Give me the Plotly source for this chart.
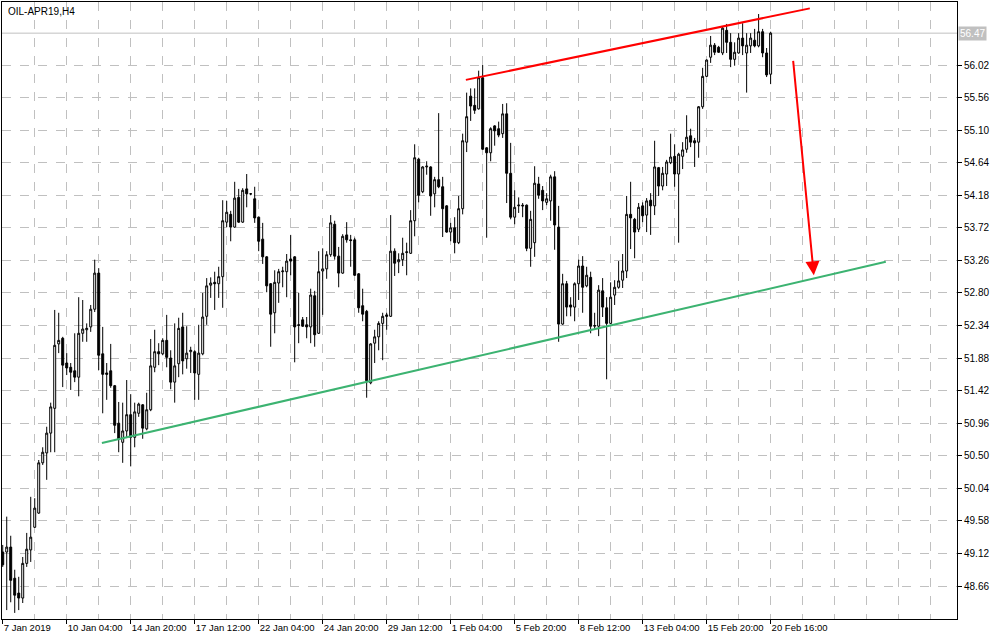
import plotly.graph_objects as go

# H4 candles of OIL-APR19 (bar index 0 = 7 Jan 2019 00:00)
opens = [
    49.14, 49.14, 49.21, 48.77, 48.56, 48.49, 48.98, 49.17, 49.49, 49.69,
    50.40, 50.54, 50.82, 51.17, 52.08, 52.16, 51.81, 51.75, 51.70, 51.61,
    52.23, 52.28, 52.32, 52.57, 53.08, 51.94, 51.67, 51.70, 51.49, 50.96,
    50.69, 50.85, 51.08, 50.76, 51.10, 51.22, 50.88, 51.15, 51.75, 51.97,
    51.94, 52.13, 51.88, 51.54, 51.80, 52.32, 51.87, 51.97, 51.97, 51.65,
    51.94, 52.47, 52.91, 52.95, 52.93, 53.03, 53.80, 53.91, 53.73, 54.15,
    53.80, 54.27, 54.20, 54.13, 53.87, 53.56, 53.31, 52.93, 52.52, 52.94,
    53.10, 53.10, 53.28, 53.31, 52.34, 52.42, 52.35, 52.32, 52.76, 52.23,
    53.11, 53.14, 53.34, 53.77, 53.32, 53.08, 53.62, 53.55, 53.55, 53.07,
    52.62, 52.54, 51.53, 52.09, 52.18, 52.37, 52.49, 52.47, 53.39, 53.24,
    53.27, 53.37, 53.36, 53.82, 54.69, 54.23, 54.58, 54.58, 54.20, 54.40,
    54.30, 54.03, 53.66, 53.72, 53.51, 53.99, 54.93, 55.58, 55.45, 55.40,
    55.84, 54.85, 54.78, 55.16, 55.12, 55.05, 55.33, 54.49, 53.87, 54.03,
    54.04, 54.04, 53.43, 53.51, 54.34, 54.25, 54.08, 54.10, 54.44, 53.73,
    52.36, 52.93, 52.63, 52.60, 52.93, 53.18, 52.90, 53.02, 52.33, 52.33,
    52.83, 52.59, 52.37, 52.77, 52.88, 52.98, 53.11, 53.91, 53.84, 53.70,
    54.03, 53.90, 54.11, 54.03, 54.57, 54.31, 54.48, 54.64, 54.73, 54.48,
    54.73, 54.83, 55.02, 54.95, 54.93, 55.43, 55.86, 56.13, 56.30, 56.27,
    56.19, 56.51, 56.34, 56.10, 56.19, 56.40, 56.19, 56.29, 56.37, 56.29,
    56.49, 56.19, 55.89,
]
highs = [
    49.24, 49.64, 49.37, 48.89, 48.79, 49.07, 49.41, 49.92, 49.90, 50.44,
    50.62, 50.91, 51.25, 52.56, 52.52, 52.18, 51.95, 51.81, 52.23, 52.74,
    52.70, 52.37, 52.63, 53.27, 53.15, 52.32, 51.81, 52.08, 51.50, 51.26,
    51.25, 51.57, 51.37, 51.25, 51.25, 51.23, 51.39, 52.15, 52.28, 52.09,
    52.16, 52.49, 51.99, 52.37, 52.45, 52.52, 52.33, 52.04, 51.99, 52.35,
    52.80, 53.01, 53.02, 53.10, 53.17, 54.11, 54.10, 53.96, 54.37, 54.27,
    54.28, 54.48, 54.21, 54.30, 53.88, 53.79, 53.32, 52.94, 53.12, 53.14,
    53.17, 53.35, 53.62, 53.32, 52.80, 52.46, 52.46, 52.86, 52.83, 53.39,
    53.43, 53.39, 53.90, 53.82, 53.45, 53.63, 53.80, 53.62, 53.58, 53.08,
    52.86, 52.56, 52.09, 52.28, 52.40, 52.52, 52.52, 53.90, 53.43, 53.36,
    53.58, 53.51, 53.97, 54.90, 54.71, 54.59, 54.66, 54.59, 54.44, 55.34,
    54.44, 54.04, 53.79, 53.87, 54.17, 55.05, 55.63, 55.69, 55.69, 55.94,
    56.02, 54.86, 55.14, 55.17, 55.22, 55.47, 55.48, 54.92, 54.25, 54.15,
    54.07, 54.05, 53.96, 54.59, 54.44, 54.31, 54.21, 54.47, 54.52, 54.03,
    53.07, 52.97, 52.74, 52.95, 53.27, 53.32, 53.17, 53.10, 52.52, 52.91,
    53.01, 52.74, 52.95, 52.98, 53.25, 53.35, 54.17, 54.37, 53.86, 54.07,
    54.08, 54.14, 54.21, 54.95, 54.58, 54.58, 54.68, 55.05, 54.90, 54.78,
    54.93, 55.31, 55.12, 54.99, 55.44, 55.98, 56.10, 56.43, 56.33, 56.29,
    56.56, 56.60, 56.47, 56.34, 56.47, 56.61, 56.47, 56.47, 56.53, 56.74,
    56.53, 56.26, 56.49,
]
lows = [
    48.93, 48.32, 48.43, 48.28, 48.32, 48.42, 48.93, 49.00, 49.48, 49.68,
    50.37, 50.16, 50.55, 50.55, 51.95, 51.47, 51.64, 51.43, 51.54, 51.34,
    52.11, 52.11, 52.25, 52.53, 51.71, 51.10, 51.29, 51.46, 50.82, 50.55,
    50.40, 50.75, 50.35, 50.62, 51.05, 50.74, 50.86, 51.13, 51.68, 51.78,
    51.92, 51.75, 51.44, 51.25, 51.61, 51.65, 51.73, 51.67, 51.29, 51.29,
    51.92, 52.35, 52.73, 52.56, 52.73, 52.59, 53.73, 53.53, 53.72, 53.79,
    53.79, 54.01, 54.18, 53.79, 53.39, 53.21, 52.81, 52.04, 52.23, 52.66,
    52.88, 52.74, 53.05, 51.82, 52.09, 52.32, 52.16, 52.09, 52.04, 52.22,
    52.49, 53.00, 53.31, 53.27, 52.88, 53.07, 53.51, 53.17, 53.04, 52.52,
    52.40, 51.32, 51.51, 51.81, 51.99, 51.85, 52.28, 52.46, 53.04, 53.08,
    53.18, 53.05, 53.35, 53.60, 54.08, 54.21, 54.47, 53.89, 54.01, 54.28,
    53.59, 53.65, 53.53, 53.36, 53.49, 53.91, 54.79, 55.23, 55.33, 55.39,
    54.82, 53.58, 54.66, 54.88, 55.00, 54.99, 54.07, 53.84, 53.77, 53.93,
    53.87, 53.39, 53.17, 53.31, 54.13, 53.97, 54.04, 53.82, 53.41, 52.11,
    52.35, 52.47, 52.47, 52.40, 52.70, 52.52, 52.88, 52.23, 52.28, 52.19,
    52.46, 51.58, 52.36, 52.63, 52.86, 52.87, 53.01, 53.42, 53.29, 53.66,
    53.80, 53.66, 53.62, 53.90, 54.17, 54.25, 54.31, 54.62, 54.30, 53.51,
    54.55, 54.78, 54.86, 54.58, 54.71, 55.40, 55.85, 56.05, 56.16, 56.19,
    56.16, 56.19, 55.99, 56.01, 56.18, 56.16, 55.63, 56.19, 56.27, 56.27,
    56.13, 55.85, 55.75,
]
closes = [
    48.96, 49.21, 48.74, 48.53, 48.49, 48.98, 49.18, 49.35, 49.76, 50.40,
    50.55, 50.82, 51.19, 52.06, 52.13, 51.78, 51.74, 51.68, 51.61, 52.23,
    52.29, 52.30, 52.57, 53.08, 51.92, 51.65, 51.65, 51.49, 50.93, 50.74,
    50.85, 51.08, 50.76, 51.12, 51.23, 50.89, 51.15, 51.77, 51.97, 51.94,
    52.13, 51.89, 51.54, 51.77, 52.30, 51.84, 51.95, 51.99, 51.67, 51.95,
    52.46, 52.90, 52.94, 52.93, 53.03, 53.82, 53.94, 53.73, 54.14, 53.80,
    54.25, 54.20, 54.20, 53.86, 53.53, 53.31, 52.90, 52.50, 52.95, 53.10,
    53.11, 53.25, 53.25, 52.32, 52.35, 52.33, 52.32, 52.77, 52.21, 53.10,
    53.14, 53.34, 53.79, 53.32, 53.08, 53.60, 53.55, 53.54, 53.05, 52.59,
    52.50, 51.56, 52.08, 52.18, 52.37, 52.47, 52.47, 53.39, 53.22, 53.27,
    53.36, 53.38, 53.82, 54.71, 54.18, 54.58, 54.59, 54.17, 54.40, 54.30,
    53.99, 53.66, 53.72, 53.51, 53.99, 54.95, 55.29, 55.44, 55.38, 55.84,
    54.83, 54.78, 55.12, 55.09, 55.03, 55.33, 54.49, 53.87, 54.01, 54.04,
    54.03, 53.43, 53.84, 54.35, 54.18, 54.10, 54.13, 54.44, 53.76, 52.36,
    52.93, 52.60, 52.60, 52.93, 53.18, 52.88, 53.05, 52.33, 52.34, 52.84,
    52.60, 52.37, 52.74, 52.88, 52.97, 53.11, 53.91, 53.86, 53.66, 54.01,
    53.89, 54.10, 54.03, 54.58, 54.31, 54.49, 54.65, 54.72, 54.48, 54.76,
    54.82, 55.00, 54.93, 54.92, 55.43, 55.86, 56.09, 56.30, 56.20, 56.20,
    56.54, 56.34, 56.10, 56.20, 56.40, 56.29, 56.30, 56.40, 56.29, 56.49,
    56.19, 55.88, 56.47,
]

# time axis labels, one every 16 bars
x_labels = ["7 Jan 2019", "10 Jan 04:00", "14 Jan 20:00", "17 Jan 12:00",
            "22 Jan 04:00", "24 Jan 20:00", "29 Jan 12:00", "1 Feb 04:00",
            "5 Feb 20:00", "8 Feb 12:00", "13 Feb 04:00", "15 Feb 20:00",
            "20 Feb 16:00"]
label_step = 16

# price scale
y_ticks = [56.02, 55.56, 55.10, 54.64, 54.18, 53.72, 53.26, 52.80, 52.34,
           51.88, 51.42, 50.96, 50.50, 50.04, 49.58, 49.12, 48.66]
bid_price = 56.47

# drawn objects: (bar index, price) of each end
red_line_x = [115.8, 201.8]
red_line_y = [55.81, 56.82]
green_line_x = [24.8, 220.8]
green_line_y = [50.68, 53.24]
arrow_x = [197.6, 202.8]
arrow_y = [56.10, 53.05]

bars = list(range(len(closes)))
font = "Liberation Sans, Arial, sans-serif"
grid = "#c0c0c0"

fig = go.Figure(go.Candlestick(
    x=bars, open=opens, high=highs, low=lows, close=closes,
    increasing=dict(line=dict(color="black", width=1), fillcolor="white"),
    decreasing=dict(line=dict(color="black", width=1), fillcolor="black"),
    whiskerwidth=0, hoverinfo="skip", showlegend=False))

# trend lines
fig.add_shape(type="line", xref="x", yref="y",
              x0=red_line_x[0], y0=red_line_y[0], x1=red_line_x[1], y1=red_line_y[1],
              line=dict(color="#ff0000", width=2))
fig.add_shape(type="line", xref="x", yref="y",
              x0=green_line_x[0], y0=green_line_y[0], x1=green_line_x[1], y1=green_line_y[1],
              line=dict(color="#3cb371", width=2))
# bid line
fig.add_shape(type="line", xref="paper", yref="y", x0=0, x1=1, y0=bid_price, y1=bid_price,
              line=dict(color=grid, width=1), layer="below")

# red arrow down to the support line
fig.add_annotation(x=arrow_x[1], y=arrow_y[1], ax=arrow_x[0], ay=arrow_y[0],
                   xref="x", yref="y", axref="x", ayref="y", text="",
                   showarrow=True, arrowhead=2, arrowsize=1.4, arrowwidth=2,
                   arrowcolor="#ff0000")

# symbol title and bid price label
fig.add_annotation(x=0, y=1, xref="paper", yref="paper", xanchor="left", yanchor="top",
                   xshift=4, yshift=-2, text="OIL-APR19,H4", showarrow=False,
                   font=dict(family=font, size=10, color="black"))
fig.add_annotation(x=1, y=bid_price, xref="paper", yref="y", xanchor="left",
                   xshift=1, text="%.2f" % bid_price, showarrow=False,
                   bgcolor=grid, borderpad=1,
                   font=dict(family=font, size=10, color="white"))

fig.update_layout(
    width=1000, height=640,
    margin=dict(l=2, r=43, t=2, b=21),
    paper_bgcolor="white", plot_bgcolor="white",
    font=dict(family=font, size=10, color="black"),
    xaxis=dict(
        range=[-0.18, 238.6], rangeslider=dict(visible=False),
        tickmode="array",
        tickvals=[i * label_step for i in range(len(x_labels))],
        ticktext=x_labels, ticklabelposition="outside right",
        tickangle=0, automargin=False,
        ticks="outside", ticklen=4, tickcolor="black",
        tickfont=dict(size=9.5),
        showgrid=True, gridcolor=grid, griddash="dash", gridwidth=1,
        minor=dict(tickmode="linear", tick0=0, dtick=8, showgrid=True,
                   gridcolor=grid, griddash="dash", gridwidth=1, ticks=""),
        showline=True, linecolor="black", linewidth=1, mirror=True,
        zeroline=False, fixedrange=True),
    yaxis=dict(
        range=[48.194, 56.91], side="right",
        tickmode="array", tickvals=y_ticks,
        ticktext=["%.2f" % v for v in y_ticks],
        ticks="outside", ticklen=4, tickcolor="black", automargin=False,
        showgrid=True, gridcolor=grid, griddash="dash", gridwidth=1,
        showline=True, linecolor="black", linewidth=1, mirror=True,
        zeroline=False, fixedrange=True),
)

# the page body has a default 8px margin; remove it so the chart sits at 0,0
fig.write_html("out.html", config={"displayModeBar": False},
               post_script="document.body.style.margin='0px';")
